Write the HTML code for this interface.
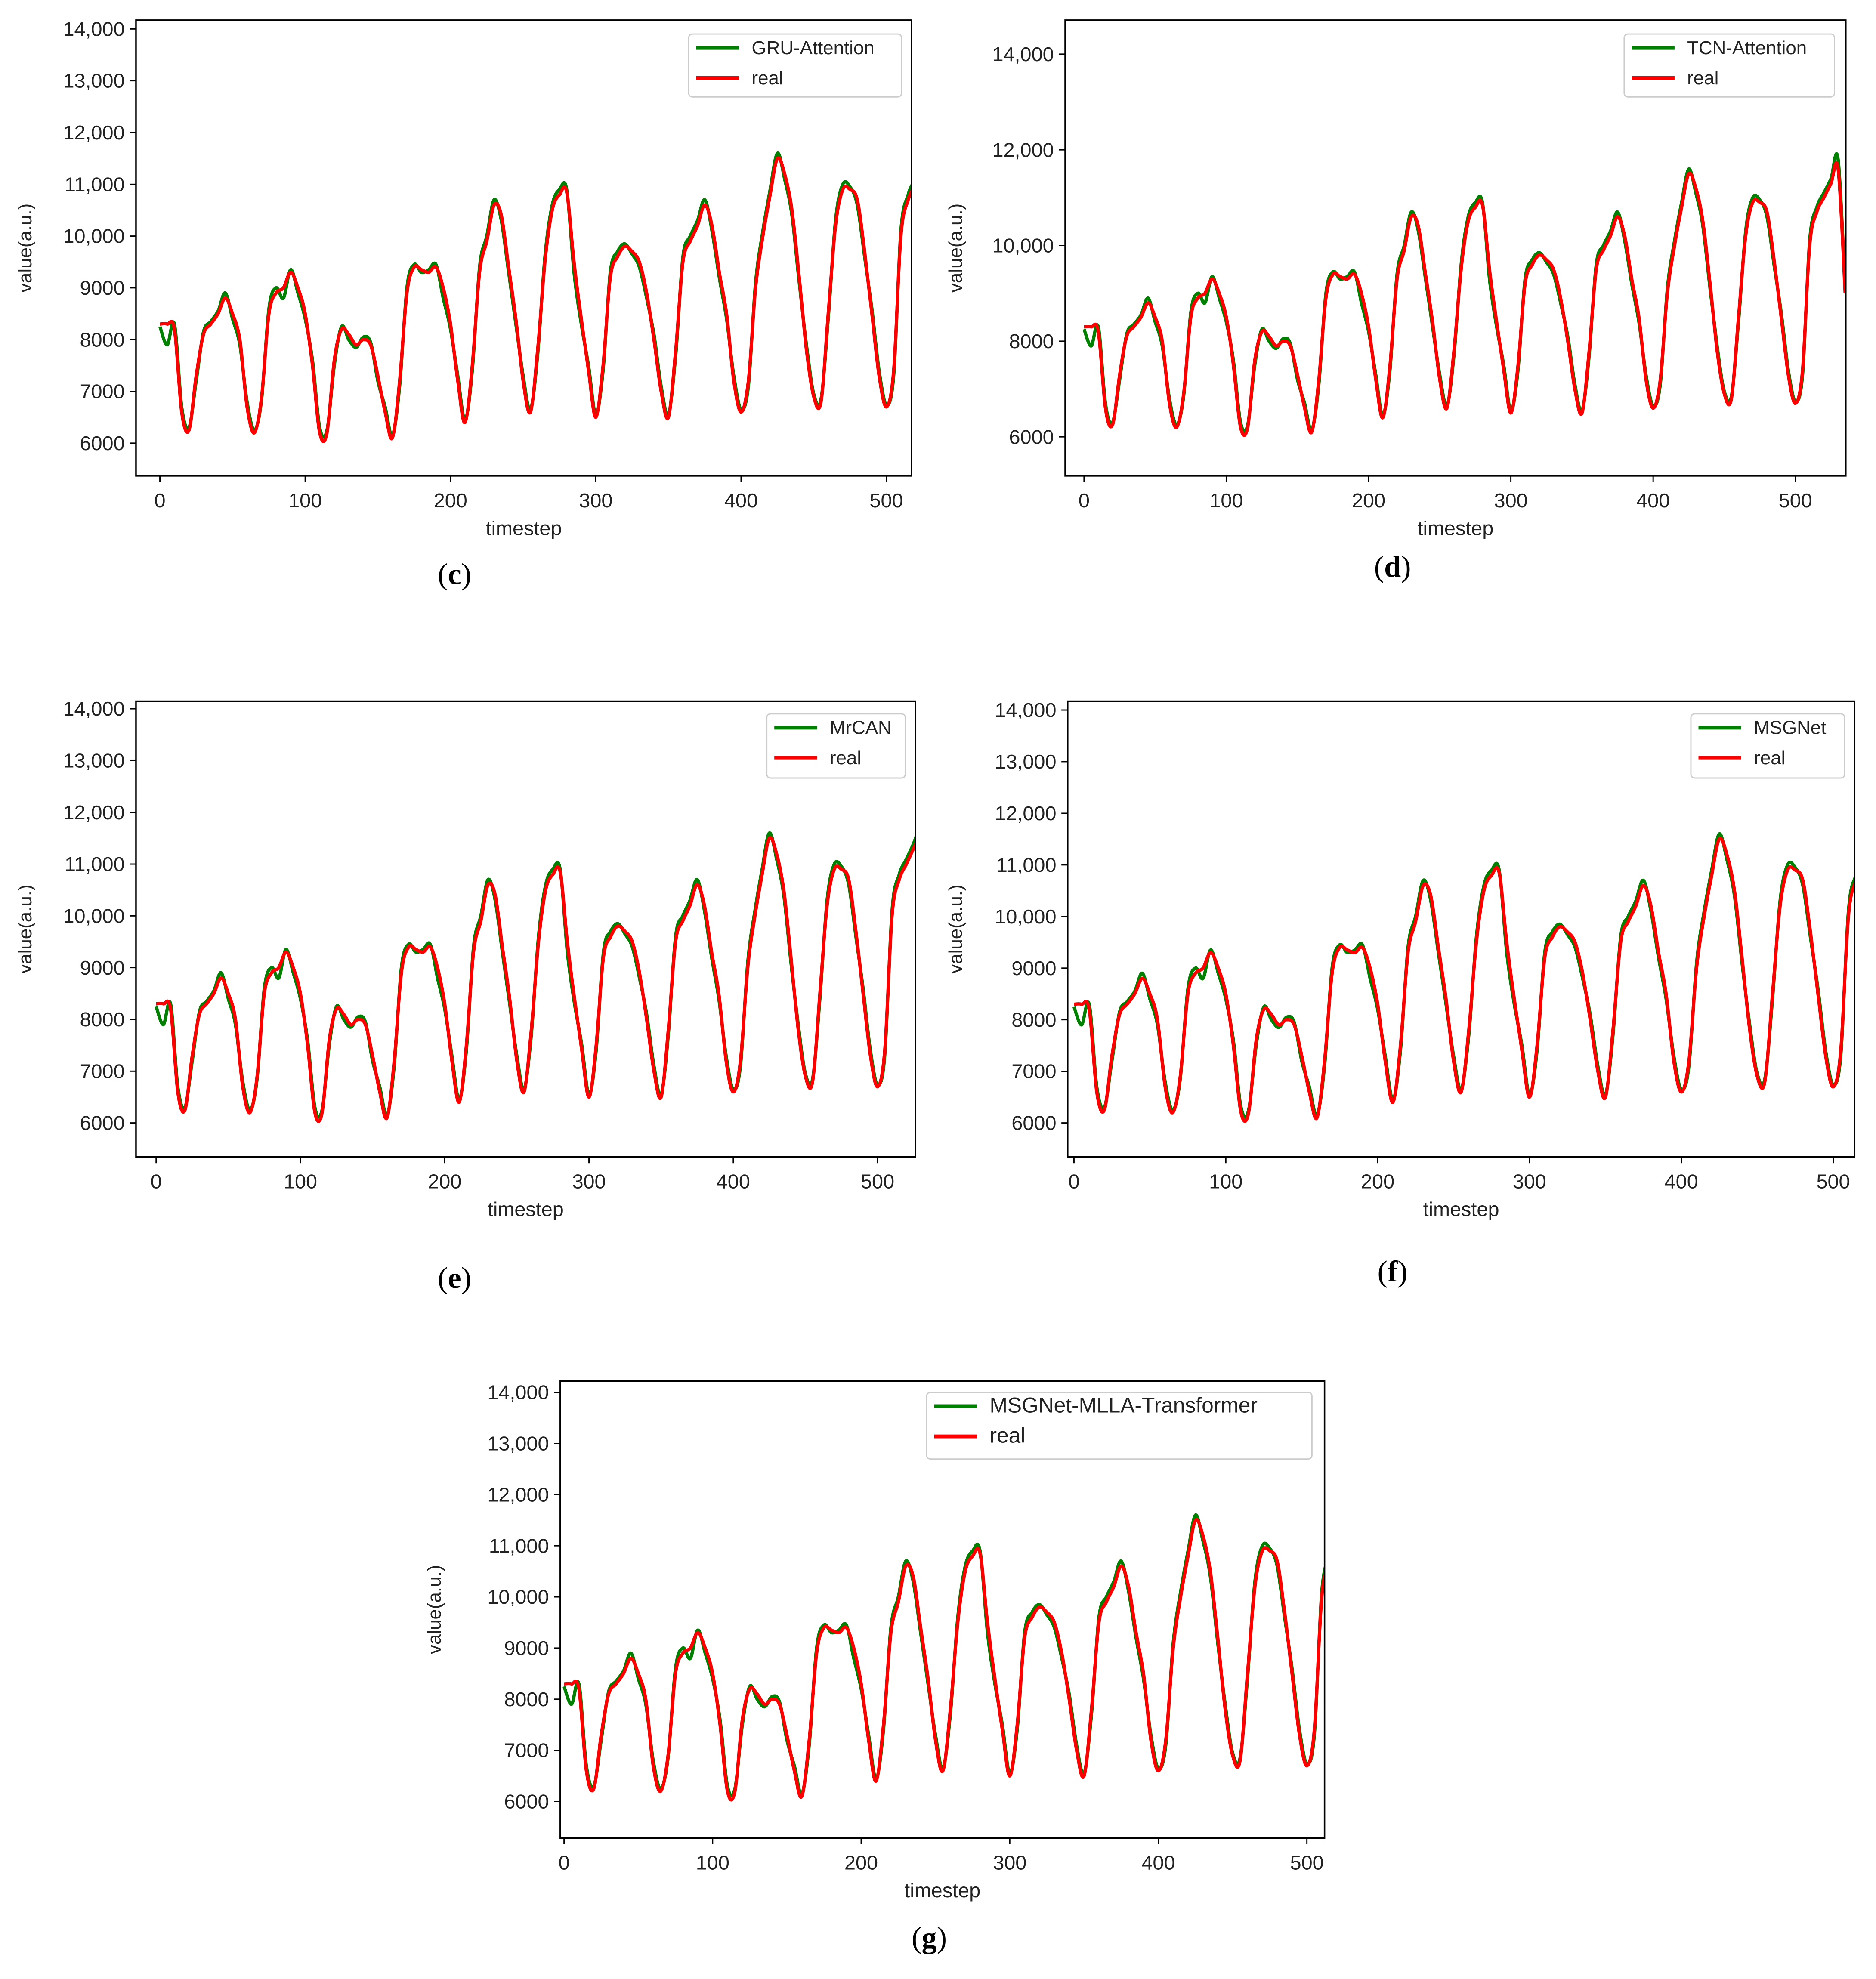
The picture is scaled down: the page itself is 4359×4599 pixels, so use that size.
<!DOCTYPE html>
<html><head><meta charset="utf-8">
<style>
html,body{margin:0;padding:0;background:#fff;}
svg{display:block;}
text{font-family:"Liberation Sans","DejaVu Sans",sans-serif;fill:#222;}
.cap{font-family:"Liberation Serif",serif;font-size:24px;fill:#000;}
</style></head>
<body>
<svg id="fig" width="4359" height="4599" viewBox="0 0 1490 1572" xmlns="http://www.w3.org/2000/svg"></svg>
<script>
// shared data (timestep every 5)
const timesteps = [0,5,10,15,20,25,30,35,40,45,50,55,60,65,70,75,80,85,90,95,100,105,110,115,120,125,130,135,140,145,150,155,160,165,170,175,180,185,190,195,200,205,210,215,220,225,230,235,240,245,250,255,260,265,270,275,280,285,290,295,300,305,310,315,320,325,330,335,340,345,350,355,360,365,370,375,380,385,390,395,400,405,410,415,420,425,430,435,440,445,450,455,460,465,470,475,480,485,490,495,500,505,510,515,520,525,530,535];
const realValues = [8300,8300,8200,6600,6250,7300,8100,8300,8500,8800,8500,8000,6700,6200,6900,8500,8900,9000,9300,9000,8500,7500,6200,6200,7600,8200,8100,7900,8000,7900,7300,6600,6100,7200,8900,9400,9350,9300,9400,9000,8300,7200,6400,7500,9300,9900,10600,10400,9400,8400,7200,6600,7800,9500,10500,10800,10850,9500,8400,7400,6500,7500,9200,9600,9800,9700,9500,8900,8000,7000,6500,7800,9500,9900,10200,10600,10200,9300,8500,7200,6600,7200,9000,10000,10800,11500,11200,10500,9200,7800,6900,6800,8500,10200,10900,10900,10700,9700,8500,7300,6700,7400,10000,10700,11000,11300,11600,9000];
const predValues = [8250,7900,8300,6700,6300,7200,8150,8350,8550,8900,8400,7900,6800,6250,6850,8600,9000,8800,9350,8900,8400,7600,6300,6250,7500,8250,8000,7850,8050,7950,7200,6700,6150,7100,9000,9450,9300,9350,9450,8800,8200,7300,6450,7400,9400,10000,10700,10300,9300,8300,7300,6650,7700,9600,10600,10900,10900,9300,8300,7500,6550,7400,9300,9700,9850,9650,9400,8800,8100,7100,6550,7700,9600,10000,10300,10700,10100,9200,8400,7300,6650,7100,9100,10100,10900,11600,11100,10400,9100,7900,6950,6850,8400,10300,11000,10950,10600,9600,8600,7400,6750,7300,10100,10800,11100,11400,11800,9100];

const panels = [
 {id:'c', legend:'GRU-Attention', box:[108,16,724,378], yT:[6000,7000,8000,9000,10000,11000,12000,13000,14000], yA:[6000,352,14000,23], xA:[0,127,500,704], tmax:517, leg:[547,27,716,77], cap:[361,456], ylx:25},
 {id:'d', legend:'TCN-Attention', box:[846,16,1466,378], yT:[6000,8000,10000,12000,14000], yA:[6000,347,14000,43], xA:[0,861,500,1426], tmax:535, leg:[1290,27,1457,77], cap:[1106,450], ylx:764},
 {id:'e', legend:'MrCAN', box:[108,557,727,919], yT:[6000,7000,8000,9000,10000,11000,12000,13000,14000], yA:[6000,892,14000,563], xA:[0,124,500,697], tmax:527, leg:[609,567,719,618], cap:[361,1015], ylx:25},
 {id:'f', legend:'MSGNet', box:[848,557,1473,919], yT:[6000,7000,8000,9000,10000,11000,12000,13000,14000], yA:[6000,892,14000,564], xA:[0,853,500,1456], tmax:515, leg:[1343,567,1465,618], cap:[1106,1010], ylx:764},
 {id:'g', legend:'MSGNet-MLLA-Transformer', box:[445,1097,1052,1460], yT:[6000,7000,8000,9000,10000,11000,12000,13000,14000], yA:[6000,1431,14000,1106], xA:[0,448,500,1038], tmax:512, leg:[736,1106,1042,1159], cap:[738,1539], ylx:350}
];
const xTicks = [0,100,200,300,400,500];
const NS='http://www.w3.org/2000/svg';
const fig=document.getElementById('fig');
function mk(tag,attrs,parent){const e=document.createElementNS(NS,tag);for(const k in attrs)e.setAttribute(k,attrs[k]);(parent||fig).appendChild(e);return e;}
function fmt(v){return v>=10000?String(v).replace(/(\d)(\d{3})$/,'$1,$2'):String(v);}
function smooth(pts){
  let d='M'+pts[0][0].toFixed(1)+','+pts[0][1].toFixed(1);
  for(let i=0;i<pts.length-1;i++){
    const p0=pts[i-1]||pts[i],p1=pts[i],p2=pts[i+1],p3=pts[i+2]||p2;
    const c1=[p1[0]+(p2[0]-p0[0])/6,p1[1]+(p2[1]-p0[1])/6];
    const c2=[p2[0]-(p3[0]-p1[0])/6,p2[1]-(p3[1]-p1[1])/6];
    d+='C'+c1[0].toFixed(1)+','+c1[1].toFixed(1)+' '+c2[0].toFixed(1)+','+c2[1].toFixed(1)+' '+p2[0].toFixed(1)+','+p2[1].toFixed(1);
  }
  return d;
}

panels.forEach(p=>{
  const [x0,y0,x1,y1]=p.box;
  const ys=v=>p.yA[1]+(v-p.yA[0])*(p.yA[3]-p.yA[1])/(p.yA[2]-p.yA[0]);
  const xs=t=>p.xA[1]+(t-p.xA[0])*(p.xA[3]-p.xA[1])/(p.xA[2]-p.xA[0]);
  const g=mk('g',{});
  
  
  const cp=mk('clipPath',{id:'clip'+p.id},g);
  mk('rect',{x:x0,y:y0,width:x1-x0,height:y1-y0},cp);
  p.yT.forEach(v=>{
    const y=ys(v);
    const t=mk('line',{x1:x0-5,x2:x0,y1:y,y2:y,stroke:'#000','stroke-width':1},g);
    
    
    const l=mk('text',{x:x0-9,y:y+5.5,'text-anchor':'end','font-size':16},g);
    l.textContent=fmt(v);
    
    
  });
  xTicks.forEach(v=>{
    const x=xs(v);
    const t=mk('line',{x1:x,x2:x,y1:y1,y2:y1+5,stroke:'#000','stroke-width':1},g);
    
    
    const l=mk('text',{x:x,y:y1+25,'text-anchor':'middle','font-size':16},g);
    l.textContent=String(v);
    
    
  });
  const xl=mk('text',{x:(x0+x1)/2,y:y1+47,'text-anchor':'middle','font-size':16},g);
  xl.textContent='timestep';
  
  
  const yc=(y0+y1)/2;
  const yl=mk('text',{x:p.ylx,y:yc,'text-anchor':'middle','font-size':15,transform:'rotate(-90 '+p.ylx+' '+yc+')'},g);
  yl.textContent='value(a.u.)';
  
  
  [[predValues,'#008000','predicted-line'],[realValues,'#ff0000','real-line']].forEach(([arr,col,nm])=>{
    const pts=[];
    timesteps.forEach((t,i)=>{if(t>p.tmax+5)return;pts.push([xs(t),ys(arr[i])]);});
    const pa=mk('path',{d:smooth(pts),fill:'none',stroke:col,'stroke-width':2.6,'stroke-linejoin':'round','clip-path':'url(#clip'+p.id+')'},g);
    
    
  });
  const fr=mk('rect',{x:x0,y:y0,width:x1-x0,height:y1-y0,fill:'none',stroke:'#000','stroke-width':1.2},g);
  
  
  const [lx0,ly0,lx1,ly1]=p.leg;
  const lg=mk('g',{},g);
  
  
  mk('rect',{x:lx0,y:ly0,width:lx1-lx0,height:ly1-ly0,rx:3,fill:'#fff',stroke:'#ccc','stroke-width':1},lg);
  const fs=p.id==='g'?17:15;
  [[p.legend,'#008000',ly0+11],['real','#ff0000',ly0+35]].forEach(([txt,col,y])=>{
    const e=mk('g',{},lg);
    
    
    mk('line',{x1:lx0+6,x2:lx0+40,y1:y,y2:y,stroke:col,'stroke-width':3},e);
    const tt=mk('text',{x:lx0+50,y:y+5,'font-size':fs},e);
    tt.textContent=txt;
  });
  const cap=mk('text',{x:p.cap[0],y:p.cap[1]+8,'text-anchor':'middle',class:'cap'},g);
  cap.innerHTML='(<tspan font-weight="bold">'+p.id+'</tspan>)';
  
  
});
</script>
</body></html>
